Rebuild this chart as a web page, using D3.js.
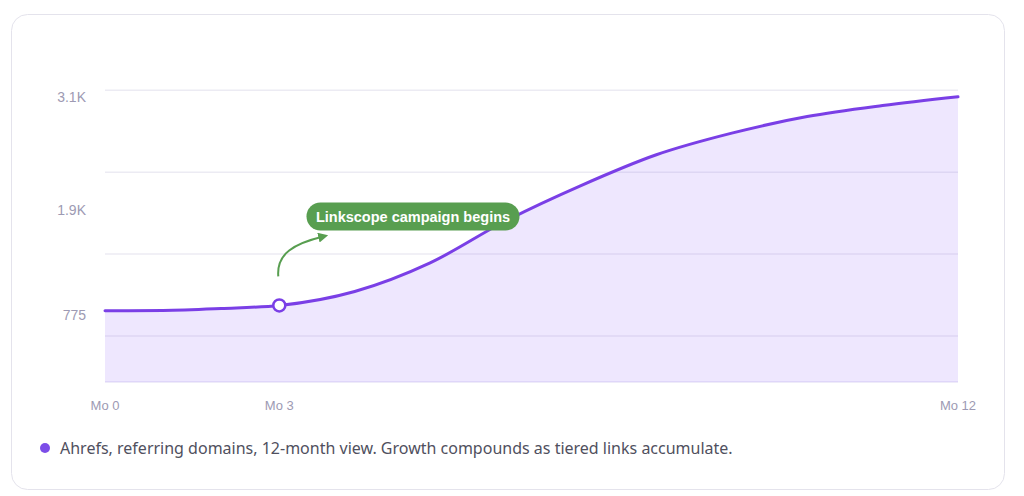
<!DOCTYPE html>
<html>
<head>
<meta charset="utf-8">
<script src="https://cdn.jsdelivr.net/npm/d3@7"></script>
<style>
  html, body { margin: 0; padding: 0; background: #ffffff; }
  svg { display: block; }
</style>
</head>
<body>
<svg id="chart" width="1024" height="496"></svg>
<script>
// ---- data ----
const months = [0, 1, 2, 3, 4, 5, 6, 7, 8, 9, 10, 11, 12];
const referringDomains = [775, 778, 799, 832, 984, 1295, 1750, 2135, 2470, 2705, 2885, 3005, 3100];
const xTickMonths = [0, 3, 12];
const xTickLabels = ["Mo 0", "Mo 3", "Mo 12"];
const yTickValues = [3100, 1865, 725];
const yTickLabels = ["3.1K", "1.9K", "775"];
const gridValues = [500, 1390, 2280, 3170];
const annotationMonth = 3;
const annotationText = "Linkscope campaign begins";
const legendText = "Ahrefs, referring domains, 12-month view. Growth compounds as tiered links accumulate.";

// ---- layout ----
const svg = d3.select("#chart");
const plot = { left: 105, right: 958, top: 90, bottom: 382 };

// card
svg.append("rect")
  .attr("x", 11.5).attr("y", 14.5)
  .attr("width", 993).attr("height", 475)
  .attr("rx", 16)
  .attr("fill", "#ffffff")
  .attr("stroke", "#e4e3ec")
  .attr("stroke-width", 1);

const x = d3.scaleLinear()
  .domain([0, 3, 12])
  .range([plot.left, 279.3, plot.right]);
const y = d3.scaleLinear()
  .domain([0, 3174])
  .range([plot.bottom, plot.top]);

const data = months.map((m, i) => ({ m, v: referringDomains[i] }));

// gridlines
svg.append("g").selectAll("line")
  .data(gridValues)
  .join("line")
  .attr("x1", plot.left).attr("x2", plot.right)
  .attr("y1", d => y(d)).attr("y2", d => y(d))
  .attr("stroke", "#ecebf3")
  .attr("stroke-width", 1.5);

// baseline
svg.append("line")
  .attr("x1", plot.left).attr("x2", plot.right)
  .attr("y1", y(0)).attr("y2", y(0))
  .attr("stroke", "#e9e5f7")
  .attr("stroke-width", 1.5);

// area
const curve = d3.curveMonotoneX;
svg.append("path")
  .datum(data)
  .attr("d", d3.area().x(d => x(d.m)).y0(y(0)).y1(d => y(d.v)).curve(curve))
  .attr("fill", "#8b5cf6")
  .attr("fill-opacity", 0.15);

// line
svg.append("path")
  .datum(data)
  .attr("d", d3.line().x(d => x(d.m)).y(d => y(d.v)).curve(curve))
  .attr("fill", "none")
  .attr("stroke", "#7a3fe6")
  .attr("stroke-width", 3)
  .attr("stroke-linejoin", "round")
  .attr("stroke-linecap", "round");

// y labels
svg.append("g").selectAll("text")
  .data(yTickValues)
  .join("text")
  .attr("x", 86)
  .attr("y", d => y(d))
  .attr("dy", "0.35em")
  .attr("text-anchor", "end")
  .attr("font-family", "Liberation Sans, Arial, sans-serif")
  .attr("font-size", 14)
  .attr("fill", "#9d9ab3")
  .text((d, i) => yTickLabels[i]);

// x labels
svg.append("g").selectAll("text")
  .data(xTickMonths)
  .join("text")
  .attr("x", d => x(d))
  .attr("y", 405)
  .attr("dy", "0.35em")
  .attr("text-anchor", "middle")
  .attr("font-family", "Liberation Sans, Arial, sans-serif")
  .attr("font-size", 13)
  .attr("fill", "#9d9ab3")
  .text((d, i) => xTickLabels[i]);

// annotation marker
const aIdx = months.indexOf(annotationMonth);
const ax = x(annotationMonth), ay = y(referringDomains[aIdx]);
const green = "#589e50";

// arrow
svg.append("defs").append("marker")
  .attr("id", "arrowhead")
  .attr("viewBox", "0 0 10 10")
  .attr("refX", 5).attr("refY", 5)
  .attr("markerWidth", 5).attr("markerHeight", 5)
  .attr("orient", "auto")
  .append("path")
  .attr("d", "M0,0 L10,5 L0,10 Z")
  .attr("fill", green);

svg.append("path")
  .attr("d", `M${ax - 1},${ay - 29} C${ax - 3},${ay - 52} ${ax + 15},${ay - 62} ${ax + 44},${ay - 69}`)
  .attr("fill", "none")
  .attr("stroke", green)
  .attr("stroke-width", 2)
  .attr("marker-end", "url(#arrowhead)");

svg.append("circle")
  .attr("cx", ax).attr("cy", ay)
  .attr("r", 6)
  .attr("fill", "#ffffff")
  .attr("stroke", "#7a3fe6")
  .attr("stroke-width", 2.5);

// annotation pill
const pill = svg.append("g");
pill.append("rect")
  .attr("x", 413 - 106.5).attr("y", 202.5)
  .attr("width", 213).attr("height", 28)
  .attr("rx", 14)
  .attr("fill", green);
pill.append("text")
  .attr("x", 413)
  .attr("y", 216.5)
  .attr("dy", "0.35em")
  .attr("text-anchor", "middle")
  .attr("font-family", "Liberation Sans, Arial, sans-serif")
  .attr("font-weight", "bold")
  .attr("font-size", 14.5)
  .attr("fill", "#ffffff")
  .text(annotationText);

// legend
svg.append("circle")
  .attr("cx", 45).attr("cy", 448)
  .attr("r", 5)
  .attr("fill", "#7c4de8");
svg.append("text")
  .attr("x", 60)
  .attr("y", 448)
  .attr("dy", "0.35em")
  .attr("font-family", "Noto Sans, sans-serif")
  .attr("font-size", 16)
  .attr("fill", "#50505e")
  .text(legendText);
</script>
</body>
</html>
